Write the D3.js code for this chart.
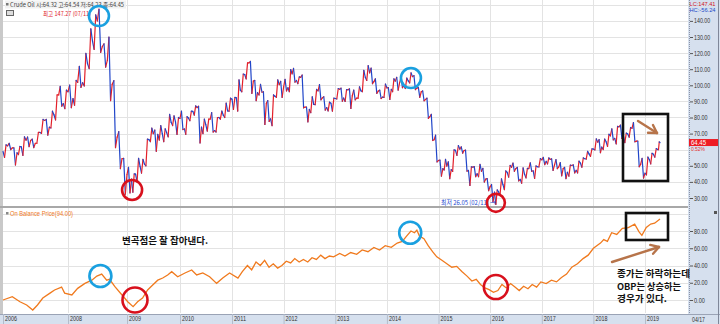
<!DOCTYPE html>
<html><head><meta charset="utf-8">
<script src="https://cdn.jsdelivr.net/npm/d3@7/dist/d3.min.js"></script>
<style>
html,body{margin:0;padding:0;background:#fff;overflow:hidden;}
svg{display:block;font-family:"Liberation Sans","DejaVu Sans",sans-serif;}
</style></head><body>
<svg id="c" width="720" height="324"></svg>
<script>
// ---------------- DATA ----------------
// Monthly WTI crude bars, Nov 2006 .. Apr 2019
const priceFirstOpen = 58.9;
const priceHigh = [
 63.0, 64.0,
 61.1, 62.0, 68.0, 67.9, 66.6, 70.7, 78.8, 78.8, 83.9, 94.0, 99.3, 97.0,
 100.1, 103.0, 111.8, 119.9, 135.1, 143.7, 147.3, 125.8, 130.0, 102.9, 71.2, 54.6,
 49.0, 45.0, 54.7, 54.0, 66.6, 73.4, 72.2, 75.0, 73.0, 82.0, 81.0, 80.0,
 83.9, 80.5, 83.9, 87.2, 87.0, 79.0, 79.0, 83.0, 80.0, 84.0, 89.0, 92.0,
 92.5, 103.4, 107.0, 113.9, 114.8, 103.0, 100.6, 96.0, 90.5, 94.0, 103.4, 102.5,
 103.7, 109.8, 110.5, 105.2, 106.4, 86.5, 92.9, 97.5, 100.4, 92.9, 89.5, 92.0,
 98.0, 98.2, 97.4, 97.8, 97.0, 99.1, 109.3, 112.2, 110.7, 104.0, 97.0, 100.8,
 98.5, 104.0, 105.0, 105.0, 104.5, 107.7, 106.0, 98.7, 96.5, 92.0, 82.0, 69.0,
 53.5, 54.0, 52.5, 59.9, 62.6, 61.8, 59.7, 49.3, 49.5, 50.9, 48.4, 42.0,
 38.4, 35.0, 41.9, 46.8, 50.2, 51.7, 49.0, 48.7, 48.4, 51.9, 49.9, 54.5,
 55.2, 54.9, 54.3, 53.8, 52.0, 49.0, 50.4, 50.6, 52.9, 54.9, 59.0, 60.5,
 66.7, 66.3, 66.6, 69.6, 72.9, 74.5, 75.3, 70.3, 73.8, 76.9, 65.4, 54.6,
 55.4, 57.8, 60.7, 64.8];
const priceLow = [
 55.2, 60.0,
 50.5, 57.0, 56.5, 61.9, 61.3, 64.0, 70.1, 69.0, 73.5, 78.5, 87.0, 85.5,
 86.1, 87.6, 98.7, 99.6, 110.4, 122.3, 120.4, 111.3, 90.5, 61.3, 48.3, 32.4,
 33.2, 33.6, 40.0, 45.5, 50.0, 65.0, 59.0, 66.0, 65.0, 68.0, 75.0, 69.5,
 72.5, 69.5, 78.0, 81.5, 64.2, 70.0, 71.5, 71.0, 71.0, 79.0, 80.0, 84.0,
 85.0, 84.0, 96.0, 104.0, 95.0, 90.5, 94.0, 75.7, 77.6, 74.9, 92.5, 92.5,
 96.5, 96.0, 102.0, 101.0, 86.0, 77.3, 83.0, 88.0, 91.0, 84.6, 84.1, 84.0,
 91.5, 90.1, 90.0, 85.6, 91.0, 92.0, 96.0, 103.0, 101.0, 95.0, 91.8, 92.5,
 91.2, 96.0, 97.0, 98.5, 98.0, 101.5, 97.3, 92.5, 90.4, 79.4, 65.7, 52.4,
 43.6, 47.4, 42.0, 46.5, 56.5, 57.8, 46.7, 37.75, 43.2, 43.2, 39.9, 34.5,
 27.6, 26.05, 32.0, 35.2, 43.0, 46.6, 40.6, 39.2, 42.5, 46.6, 42.2, 49.3,
 50.7, 51.2, 47.1, 48.2, 43.8, 42.05, 43.6, 45.6, 45.6, 49.1, 54.2, 55.8,
 59.9, 58.1, 60.1, 62.0, 66.1, 63.6, 67.0, 64.4, 67.8, 64.9, 49.4, 42.4,
 44.4, 51.2, 55.4, 60.0];
const priceClose = [
 62.4, 61.1,
 58.1, 61.8, 65.9, 65.7, 64.0, 70.7, 78.2, 74.0, 81.7, 94.0, 88.7, 96.0,
 91.8, 101.8, 101.6, 113.5, 127.4, 140.0, 124.1, 115.5, 100.6, 67.8, 54.4, 44.6,
 41.7, 44.8, 49.7, 51.1, 66.3, 69.9, 69.5, 70.0, 70.6, 77.0, 77.3, 79.4,
 72.9, 79.7, 83.8, 86.2, 74.0, 75.6, 79.0, 71.9, 80.0, 81.4, 84.1, 91.4,
 92.2, 97.0, 106.7, 113.9, 102.7, 95.4, 95.7, 88.8, 79.2, 93.2, 100.4, 98.8,
 98.5, 107.1, 103.0, 104.9, 86.5, 85.0, 88.1, 96.5, 92.2, 86.2, 88.9, 91.8,
 97.5, 92.1, 97.2, 93.5, 92.0, 96.6, 105.0, 107.7, 102.3, 96.4, 92.7, 98.4,
 97.5, 102.6, 101.6, 99.7, 102.7, 105.4, 98.2, 96.0, 91.2, 80.5, 66.2, 53.3,
 48.2, 49.8, 47.6, 59.6, 60.3, 59.5, 47.1, 49.2, 45.1, 46.6, 41.7, 37.0,
 33.6, 33.8, 38.3, 45.9, 49.1, 48.3, 41.6, 44.7, 48.2, 46.9, 49.4, 53.7,
 52.8, 54.0, 50.6, 49.3, 48.3, 46.0, 50.2, 47.2, 51.7, 54.4, 57.4, 60.4,
 64.7, 61.6, 64.9, 68.6, 67.0, 74.2, 68.8, 69.8, 73.3, 65.3, 50.9, 45.4,
 53.8, 57.2, 60.1, 64.45];
const priceStart = "2006-11-01", priceEnd = "2019-04-17";

// On Balance Volume line
const obvDates = ["2006-11-01","2007-01-01","2007-02-20","2007-04-05","2007-05-15","2007-06-15","2007-07-20","2007-09-05","2007-10-05","2007-11-20","2007-12-10",
 "2008-01-25","2008-03-01","2008-04-15","2008-05-28","2008-06-28","2008-07-28","2008-08-28","2008-09-15","2008-10-18","2008-12-01",
 "2009-01-06","2009-02-12","2009-03-15","2009-04-18","2009-05-23","2009-06-27","2009-08-01","2009-09-04","2009-10-08","2009-11-05","2009-12-16",
 "2010-02-05","2010-03-24","2010-04-28","2010-06-10","2010-07-28","2010-09-15","2010-10-28","2010-12-15",
 "2011-02-12","2011-03-15","2011-04-20","2011-05-20","2011-06-20","2011-07-20","2011-08-20","2011-09-20","2011-10-20","2011-11-20","2011-12-20",
 "2012-01-20","2012-02-20","2012-03-20","2012-04-20","2012-05-20","2012-06-20","2012-07-20","2012-08-20","2012-09-20","2012-10-20","2012-11-20","2012-12-20",
 "2013-02-01","2013-03-10","2013-04-20","2013-06-01","2013-07-10","2013-08-20","2013-10-01","2013-11-10","2013-12-20",
 "2014-02-01","2014-03-15","2014-04-20","2014-05-20","2014-06-20","2014-07-15","2014-08-01","2014-08-20","2014-09-20","2014-10-20","2014-11-20","2014-12-20",
 "2015-01-25","2015-03-01","2015-04-05","2015-05-10","2015-06-15","2015-07-20","2015-08-25","2015-09-25","2015-10-25","2015-11-25","2015-12-25",
 "2016-01-25","2016-02-25","2016-03-25","2016-04-25","2016-05-25","2016-06-25","2016-07-25","2016-08-25","2016-09-25","2016-10-25","2016-11-25","2016-12-25",
 "2017-02-01","2017-03-10","2017-04-15","2017-05-20","2017-06-25","2017-08-01","2017-09-10","2017-10-20","2017-11-25",
 "2018-01-01","2018-02-20","2018-03-15","2018-04-10","2018-05-10","2018-06-15","2018-07-25","2018-09-05","2018-10-20","2018-11-20","2018-12-10",
 "2019-01-10","2019-02-10","2019-03-10","2019-04-17"];
const obvValues = [0, 3.9, -2, -5.8, -11.6, -5.8, 2.3, 8, 11.6, 15, 8,
 5.8, 13.5, 19.3, 23, 27.8, 30, 23, 24, 15.5, 5.8,
 -2, -7.7, -2, 2.3, 11.6, 17.4, 23, 25.5, 29, 32.8, 27,
 31.3, 34.8, 29, 31.3, 27, 19.3, 25.5, 31.3,
 25.5, 33, 40, 35, 44, 40, 46, 38, 42, 37, 40,
 45, 43, 48, 44, 47, 44, 49, 47, 52, 48, 51, 50,
 54, 51, 55, 53, 58, 56, 61, 58, 63,
 61, 66, 68, 74, 80, 78, 81, 74, 71, 63, 56, 50,
 46, 42, 38, 39, 33, 28, 22, 24, 18, 14, 12,
 9, 11, 18, 14, 19, 15, 11, 16, 13, 18, 15, 21,
 19, 23, 21, 26, 30, 38, 42, 48, 52,
 60, 66, 70, 68, 78, 76, 83, 84, 88, 79, 75,
 84, 88, 89, 94];

const priceTicks = [30,40,50,60,70,80,90,100,110,120,130,140];
const priceTickHidden = [60]; // covered by the last-price marker
const obvTicks = [0,20,40,60,80];
const yearTicks = ["2008","2009","2010","2011","2012","2013","2014","2015","2016","2017","2018","2019"];

// ---------------- LAYOUT ----------------
const svg = d3.select("#c");
const plotL = 3, plotR = 688;
const parse = d3.timeParse("%Y-%m-%d");
const x = d3.scaleTime()
  .domain([parse("2006-11-01"), parse("2008-01-01"), parse("2009-01-01"), parse("2010-01-01"), parse("2011-01-01"), parse("2019-01-01"), parse("2019-04-17")])
  .range([3, 68, 127, 180, 232, 645, 660]);
const yP = d3.scaleLinear().domain([30, 150]).range([198, 4.8]);
const yO = d3.scaleLinear().domain([0, 80]).range([300, 231]);

const axisBg = "#d6e0ee";
svg.append("rect").attr("x",0).attr("y",0).attr("width",720).attr("height",324).attr("fill","#fff");
svg.append("rect").attr("x",0).attr("y",0).attr("width",3).attr("height",314).attr("fill","#c9c9c9");
svg.append("rect").attr("x",plotR).attr("y",0).attr("width",720-plotR).attr("height",314).attr("fill",axisBg);
svg.append("line").attr("x1",plotR+1.5).attr("x2",plotR+1.5).attr("y1",0).attr("y2",314)
  .attr("stroke","#8a93a8").attr("stroke-dasharray","1,1");
svg.append("rect").attr("x",0).attr("y",314).attr("width",720).attr("height",10).attr("fill",axisBg);
svg.append("line").attr("x1",0).attr("x2",720).attr("y1",314.5).attr("y2",314.5).attr("stroke","#9aa3b5");
svg.append("line").attr("x1",718.5).attr("x2",718.5).attr("y1",0).attr("y2",324).attr("stroke","#7f8799");

// grids
const grid = svg.append("g").attr("stroke","#e3e3e3").attr("stroke-width",1);
yearTicks.forEach(t => {
  const xx = Math.round(x(parse(t+"-01-01"))) + 0.5;
  grid.append("line").attr("x1",xx).attr("x2",xx).attr("y1",0).attr("y2",313);
});
[...priceTicks,150].forEach(v => {
  const yy = Math.round(yP(v)) + 0.5;
  grid.append("line").attr("x1",plotL).attr("x2",plotR).attr("y1",yy).attr("y2",yy);
});
[...obvTicks,100].forEach(v => {
  const yy = Math.round(yO(v)) + 0.5;
  grid.append("line").attr("x1",plotL).attr("x2",plotR).attr("y1",yy).attr("y2",yy);
});
svg.append("rect").attr("x",0).attr("y",206).attr("width",plotR).attr("height",2).attr("fill","#a8a8a8");

// ---------------- PRICE BARS ----------------
const months = d3.timeMonth.range(parse(priceStart), d3.timeMonth.offset(parse(priceStart), priceClose.length));
const lastDay = parse(priceEnd);
const pts = [];
let prev = priceFirstOpen;
months.forEach((m, i) => {
  const t0 = m, t1 = (i === months.length-1) ? lastDay : d3.timeMonth.offset(m,1);
  const o = prev, h = priceHigh[i], l = priceLow[i], c = priceClose[i];
  const dt = (t1 - t0);
  const e1 = c >= o ? l : h, e2 = c >= o ? h : l;
  if (i === 0) pts.push([t0, o]);
  pts.push([new Date(+t0 + dt/3), e1]);
  pts.push([new Date(+t0 + 2*dt/3), e2]);
  pts.push([t1, c]);
  prev = c;
});
const segs = d3.pairs(pts);
svg.append("g").selectAll("line").data(segs).join("line")
  .attr("x1", d => x(d[0][0])).attr("y1", d => yP(d[0][1]))
  .attr("x2", d => x(d[1][0])).attr("y2", d => yP(d[1][1]))
  .attr("stroke", d => d[1][1] >= d[0][1] ? "#e3202a" : "#2146c9")
  .attr("stroke-width", 1.2).attr("stroke-linecap","round");
svg.append("path").attr("d", d3.symbol(d3.symbolTriangle, 10)())
  .attr("transform", `translate(${x(parse("2008-07-11"))},${yP(147.27)-3}) rotate(180)`).attr("fill","#e3202a");

// ---------------- OBV LINE ----------------
const obv = obvDates.map((d,i) => [parse(d), obvValues[i]]);
svg.append("path").datum(obv)
  .attr("d", d3.line().x(d => x(d[0])).y(d => yO(d[1])))
  .attr("fill","none").attr("stroke","#f07a1e").attr("stroke-width",1.3);

// ---------------- AXES ----------------
const fmt2 = d3.format(".2f");
const axP = d3.axisRight(yP).tickValues(priceTicks.filter(v => !priceTickHidden.includes(v))).tickSize(3).tickPadding(1).tickFormat(fmt2);
const gP = svg.append("g").attr("transform",`translate(${plotR+2},0)`).call(axP);
const axO = d3.axisRight(yO).tickValues(obvTicks).tickSize(3).tickPadding(1).tickFormat(fmt2);
const gO = svg.append("g").attr("transform",`translate(${plotR+2},0)`).call(axO);
[gP,gO].forEach(g => {
  g.select(".domain").remove();
  g.selectAll("line").attr("stroke","#555");
  g.selectAll("text").attr("fill","#333").attr("font-size",6.5).attr("font-family","Liberation Sans")
    .each(function(){ const t = d3.select(this); t.attr("textLength", t.text().length*2.7).attr("lengthAdjust","spacingAndGlyphs"); });
});
const xTickDates = [parse(priceStart), ...yearTicks.map(t => parse(t+"-01-01"))];
const axX = d3.axisBottom(x).tickValues(xTickDates).tickSize(10)
  .tickFormat((d,i) => i === 0 ? "2006" : d3.timeFormat("%Y")(d));
const gX = svg.append("g").attr("transform","translate(0,314)").call(axX);
gX.select(".domain").remove();
gX.selectAll("line").attr("stroke","#b3bccb");
gX.selectAll("text").attr("fill","#333").attr("font-size",6.5).attr("font-family","Liberation Sans")
  .attr("text-anchor","start").attr("dx",1.5).attr("y",2).attr("dy","0.71em")
  .attr("textLength",12).attr("lengthAdjust","spacingAndGlyphs");
svg.append("text").attr("x",692).attr("y",321.5).attr("font-size",6.5).attr("font-family","Liberation Sans").attr("fill","#333")
  .attr("textLength",13).attr("lengthAdjust","spacingAndGlyphs").text("04/17");

svg.append("text").attr("x",689.5).attr("y",5.5).attr("font-size",6).attr("fill","#d0141c").attr("font-family","Liberation Sans")
  .attr("textLength",26).attr("lengthAdjust","spacingAndGlyphs").text("LC:147.41");
svg.append("text").attr("x",689.5).attr("y",11.5).attr("font-size",6).attr("fill","#1d48c8").attr("font-family","Liberation Sans")
  .attr("textLength",26).attr("lengthAdjust","spacingAndGlyphs").text("HC:-56.24");
const lastP = priceClose[priceClose.length-1];
svg.append("rect").attr("x",689).attr("y",yP(lastP)-3.5).attr("width",29).attr("height",7).attr("fill","#ee1c24");
svg.append("text").attr("x",691).attr("y",yP(lastP)+2.3).attr("font-size",6.5).attr("fill","#fff").attr("font-family","Liberation Sans")
  .attr("textLength",15).attr("lengthAdjust","spacingAndGlyphs").text(fmt2(lastP));
svg.append("text").attr("x",691).attr("y",yP(lastP)+8.5).attr("font-size",6).attr("fill","#e03030").attr("font-family","Liberation Sans")
  .attr("textLength",14).attr("lengthAdjust","spacingAndGlyphs").text("0.52%");
svg.append("rect").attr("x",714).attr("y",211).attr("width",3).attr("height",3).attr("fill","#555");

// legends
svg.append("rect").attr("x",5).attr("y",0.5).attr("width",121).attr("height",8).attr("fill","#f2f2f2");
svg.append("rect").attr("x",6).attr("y",3).attr("width",2.5).attr("height",2.5).attr("fill","#777");
svg.append("text").attr("x",10).attr("y",6.6).attr("font-size",6.2).attr("fill","#444")
  .attr("font-family","Noto Sans CJK KR").attr("textLength",114).attr("lengthAdjust","spacingAndGlyphs")
  .text("Crude Oil 시:64.32 고:64.54 저:64.23 종:64.45");
svg.append("rect").attr("x",6.5).attr("y",10.5).attr("width",7).attr("height",5).attr("fill","#ddd").attr("stroke","#666").attr("stroke-width",1);
svg.append("text").attr("x",43).attr("y",16).attr("font-size",6.2).attr("fill","#e0202a")
  .attr("font-family","Noto Sans CJK KR").attr("textLength",48).attr("lengthAdjust","spacingAndGlyphs")
  .text("최고 147.27 (07/11)");
svg.append("text").attr("x",441).attr("y",205).attr("font-size",6.5).attr("fill","#2448d0")
  .attr("font-family","Noto Sans CJK KR").attr("textLength",55).attr("lengthAdjust","spacingAndGlyphs")
  .text("최저 26.05 (02/11) →");
svg.append("rect").attr("x",6).attr("y",212).attr("width",2.5).attr("height",2.5).attr("fill","#888");
svg.append("text").attr("x",10).attr("y",216).attr("font-size",6.5).attr("fill","#f07a1e")
  .attr("font-family","Liberation Sans").attr("textLength",63).attr("lengthAdjust","spacingAndGlyphs")
  .text("On Balance Price(94.00)");

// ---------------- ANNOTATIONS ----------------
const ann = svg.append("g").attr("fill","none");
const circ = (cx,cy,r,col) => ann.append("circle").attr("cx",cx).attr("cy",cy).attr("r",r).attr("stroke",col).attr("stroke-width",2.6);
const BLUE = "#1aa0e0", RED = "#d8101c";
circ(x(parse("2008-07-11")), yP(143), 10, BLUE);
circ(x(parse("2014-06-20")), yP(104.5), 10, BLUE);
circ(x(parse("2009-02-05")), yP(35), 10, RED);
circ(x(parse("2016-02-11")), yP(27), 9, RED);
circ(x(parse("2008-07-20")), yO(27.8), 11, BLUE);
circ(x(parse("2014-06-15")), yO(78), 11, BLUE);
circ(x(parse("2009-02-25")), yO(0), 12.5, RED);
circ(x(parse("2016-02-11")), yO(15), 12, RED);
ann.append("rect").attr("x",623).attr("y",114).attr("width",45).attr("height",67).attr("stroke","#111").attr("stroke-width",2.6);
ann.append("rect").attr("x",626).attr("y",213).attr("width",42).attr("height",27).attr("stroke","#111").attr("stroke-width",2.6);
const BROWN = "#b7744a";
const arrow = (x1,y1,x2,y2) => {
  ann.append("line").attr("x1",x1).attr("y1",y1).attr("x2",x2).attr("y2",y2).attr("stroke",BROWN).attr("stroke-width",2.4).attr("stroke-linecap","round");
  const a = Math.atan2(y2-y1,x2-x1), L = 9;
  [a+2.6, a-2.6].forEach(b => ann.append("line").attr("x1",x2).attr("y1",y2).attr("x2",x2+L*Math.cos(b)).attr("y2",y2+L*Math.sin(b))
    .attr("stroke",BROWN).attr("stroke-width",2.4).attr("stroke-linecap","round"));
};
arrow(638,121,657,133);
arrow(612,262,659,247);

const kfont = "Noto Sans CJK KR";
svg.append("text").attr("x",122).attr("y",244).attr("font-size",9.5).attr("font-weight","bold").attr("fill","#111")
  .attr("font-family",kfont).attr("textLength",86).attr("lengthAdjust","spacingAndGlyphs").text("변곡점은 잘 잡아낸다.");
[["종가는 하락하는데",277,73],["OBP는 상승하는",290,64],["경우가 있다.",302,50]].forEach(([t,yy,w]) =>
  svg.append("text").attr("x",617).attr("y",yy).attr("font-size",9).attr("font-weight","bold").attr("fill","#111")
    .attr("font-family",kfont).attr("textLength",w).attr("lengthAdjust","spacingAndGlyphs").text(t));
</script>
</body></html>
